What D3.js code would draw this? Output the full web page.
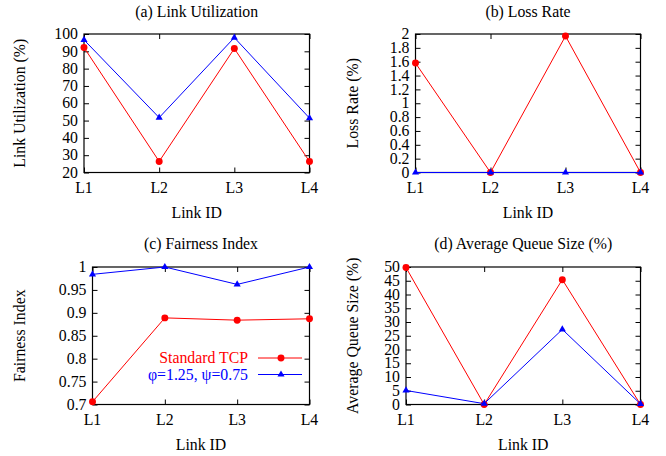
<!DOCTYPE html>
<html>
<head>
<meta charset="utf-8">
<script src="https://cdn.jsdelivr.net/npm/d3@7"></script>
<style>
  body { margin: 0; background: #fff; }
</style>
</head>
<body>
<svg width="666" height="456"></svg>
<script>
// data
var linkIds = ["L1", "L2", "L3", "L4"];

var utilTcp = [92.2, 26.4, 91.6, 26.3];
var utilNew = [96.6, 51.7, 97.9, 51.4];

var lossTcp = [1.58, 0, 1.97, 0];
var lossNew = [0, 0, 0, 0];

var fairTcp = [0.706, 0.889, 0.884, 0.887];
var fairNew = [0.984, 1.0, 0.962, 1.0];

var queueTcp = [49.8, 0, 45.4, 0];
var queueNew = [5.1, 0.3, 27.3, 0.2];

var utilTicks = d3.range(20, 101, 10);
var lossTicks = d3.range(0, 11).map(function(i) { return i * 0.2; });
var fairTicks = d3.range(0, 7).map(function(i) { return 0.7 + i * 0.05; });
var queueTicks = d3.range(0, 51, 5);

var seriesNames = ["Standard TCP", "\u03c6=1.25, \u03c8=0.75"];
var colors = ["#ff0000", "#0000ff"];

var FONT = "'Liberation Serif', 'Times New Roman', serif";

var svg = d3.select("svg");

var panels = [
  { title: "(a) Link Utilization", ylabel: "Link Utilization (%)", tcp: utilTcp, alt: utilNew,
    domain: [20, 100], ticks: utilTicks, fmt: function(d) { return d; },
    box: [84, 34, 309.5, 172.5], ylx: 20, ty: 16.5 },
  { title: "(b) Loss Rate", ylabel: "Loss Rate (%)", tcp: lossTcp, alt: lossNew,
    domain: [0, 2], ticks: lossTicks, fmt: function(d) { return +d.toFixed(1); },
    box: [415.5, 34, 640.5, 172.5], ylx: 353, ty: 16.5 },
  { title: "(c) Fairness Index", ylabel: "Fairness Index", tcp: fairTcp, alt: fairNew,
    domain: [0.7, 1], ticks: fairTicks, fmt: function(d) { return +d.toFixed(2); },
    box: [92.5, 267, 309.5, 404.5], ylx: 20, ty: 248.5, legend: true },
  { title: "(d) Average Queue Size (%)", ylabel: "Average Queue Size (%)", tcp: queueTcp, alt: queueNew,
    domain: [0, 50], ticks: queueTicks, fmt: function(d) { return d; },
    box: [406, 267, 640.5, 404.5], ylx: 353, ty: 248.5 }
];

function txt(sel) {
  sel.attr("font-family", FONT).attr("font-size", 15.8).attr("fill", "#000");
}

panels.forEach(function(p) {
  var x0 = p.box[0], y0 = p.box[1], x1 = p.box[2], y1 = p.box[3];
  var x = d3.scalePoint().domain(linkIds).range([x0, x1]).padding(0);
  var y = d3.scaleLinear().domain(p.domain).range([y1, y0]);
  var g = svg.append("g");

  // inside ticks on all four sides
  g.append("g").attr("transform", "translate(0," + y1 + ")")
    .call(d3.axisTop(x).tickSize(5).tickFormat(""))
    .call(function(a) { a.select(".domain").remove(); });
  g.append("g").attr("transform", "translate(0," + y0 + ")")
    .call(d3.axisBottom(x).tickSize(5).tickFormat(""))
    .call(function(a) { a.select(".domain").remove(); });
  g.append("g").attr("transform", "translate(" + x0 + ",0)")
    .call(d3.axisRight(y).tickValues(p.ticks).tickSize(5).tickFormat(""))
    .call(function(a) { a.select(".domain").remove(); });
  g.append("g").attr("transform", "translate(" + x1 + ",0)")
    .call(d3.axisLeft(y).tickValues(p.ticks).tickSize(5).tickFormat(""))
    .call(function(a) { a.select(".domain").remove(); });
  g.selectAll(".tick line").attr("stroke", "#000").attr("stroke-width", 1);

  g.append("rect")
    .attr("x", x0).attr("y", y0)
    .attr("width", x1 - x0).attr("height", y1 - y0)
    .attr("fill", "none").attr("stroke", "#000").attr("stroke-width", 1.2);

  // tick labels
  g.selectAll("text.xl").data(linkIds).enter().append("text")
    .attr("x", function(d) { return x(d); })
    .attr("y", y1 + 20)
    .attr("text-anchor", "middle")
    .call(txt)
    .text(function(d) { return d; });
  g.selectAll("text.yl").data(p.ticks).enter().append("text")
    .attr("x", x0 - 6)
    .attr("y", function(d) { return y(d) + 5.2; })
    .attr("text-anchor", "end")
    .call(txt)
    .text(p.fmt);

  g.append("text")
    .attr("x", (x0 + x1) / 2).attr("y", y1 + 45)
    .attr("text-anchor", "middle").call(txt).text("Link ID");
  g.append("text")
    .attr("transform", "translate(" + (p.ylx + 5) + "," + ((y0 + y1) / 2) + ") rotate(-90)")
    .attr("text-anchor", "middle").call(txt).text(p.ylabel);
  g.append("text")
    .attr("x", (x0 + x1) / 2).attr("y", p.ty)
    .attr("text-anchor", "middle").call(txt).text(p.title);

  var line = d3.line()
    .x(function(d, i) { return x(linkIds[i]); })
    .y(function(d) { return y(d); });

  [p.tcp, p.alt].forEach(function(vals, s) {
    g.append("path").datum(vals)
      .attr("d", line)
      .attr("fill", "none").attr("stroke", colors[s]).attr("stroke-width", 1);
    g.selectAll("path.m" + s).data(vals).enter().append("path")
      .attr("transform", function(d, i) { return "translate(" + x(linkIds[i]) + "," + y(d) + ")"; })
      .attr("d", d3.symbol().type(s === 0 ? d3.symbolCircle : d3.symbolTriangle).size(s === 0 ? 38 : 22))
      .attr("fill", colors[s]);
  });

  if (p.legend) {
    var ly = [358, 374.5];
    seriesNames.forEach(function(name, s) {
      g.append("text")
        .attr("x", 248).attr("y", ly[s] + 5)
        .attr("text-anchor", "end")
        .call(txt)
        .attr("fill", colors[s])
        .text(name);
      g.append("line")
        .attr("x1", 258).attr("x2", 302)
        .attr("y1", ly[s]).attr("y2", ly[s])
        .attr("stroke", colors[s]).attr("stroke-width", 1);
      g.append("path")
        .attr("transform", "translate(281," + ly[s] + ")")
        .attr("d", d3.symbol().type(s === 0 ? d3.symbolCircle : d3.symbolTriangle).size(s === 0 ? 38 : 22))
        .attr("fill", colors[s]);
    });
  }
});
</script>
</body>
</html>
